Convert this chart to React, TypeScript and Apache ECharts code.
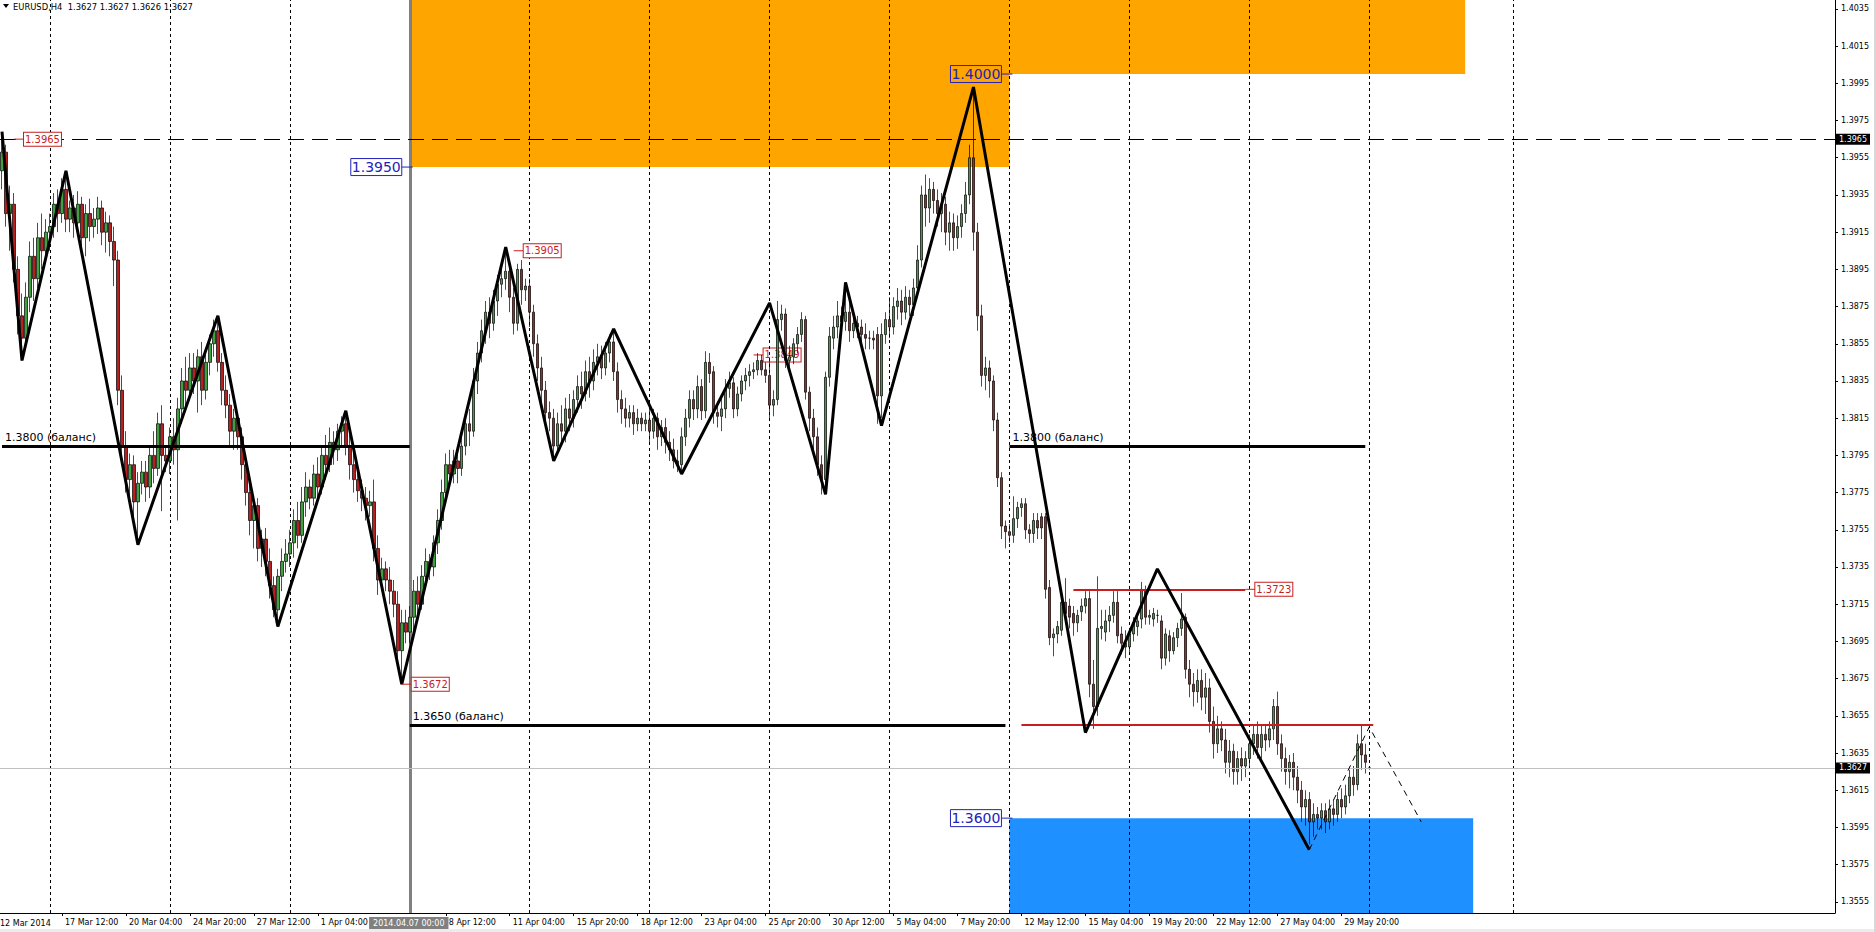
import { useEffect, useRef } from "react";
import * as echarts from "echarts";

const FONT = '"DejaVu Sans", sans-serif';

// ---- OHLC data, one tuple per H4 bar: [open, close, low, high] ----
const wk1 = [
  [1.3948, 1.3958, 1.3938, 1.3967], [1.3958, 1.3925, 1.3918, 1.3962], [1.3925, 1.393, 1.3905, 1.394],
  [1.393, 1.3895, 1.3888, 1.3936], [1.3895, 1.387, 1.386, 1.3902], [1.387, 1.3858, 1.3846, 1.3882],
  [1.3858, 1.388, 1.3852, 1.3888], [1.388, 1.3902, 1.3872, 1.391], [1.3902, 1.389, 1.3878, 1.3912],
  [1.389, 1.3912, 1.3885, 1.392], [1.3912, 1.3905, 1.3895, 1.3925], [1.3905, 1.3915, 1.3898, 1.3922],
];
const wk2 = [
  [1.3915, 1.3918, 1.3905, 1.3925], [1.3918, 1.393, 1.3912, 1.3936], [1.393, 1.3925, 1.3915, 1.3938],
  [1.3925, 1.3938, 1.392, 1.3944], [1.3938, 1.3922, 1.3915, 1.3948], [1.3922, 1.3928, 1.3915, 1.3932],
  [1.3928, 1.392, 1.3912, 1.3935], [1.392, 1.393, 1.3915, 1.3937], [1.393, 1.3912, 1.3905, 1.3934],
  [1.3912, 1.3925, 1.3902, 1.393], [1.3925, 1.3918, 1.391, 1.3933], [1.3918, 1.3922, 1.3912, 1.3928],
  [1.3922, 1.3928, 1.3914, 1.3934], [1.3928, 1.3915, 1.3908, 1.3932], [1.3915, 1.392, 1.3904, 1.3926],
  [1.392, 1.391, 1.3902, 1.3924], [1.391, 1.39, 1.3886, 1.3918], [1.39, 1.383, 1.3822, 1.3905],
  [1.383, 1.38, 1.379, 1.3838], [1.38, 1.3782, 1.3775, 1.3808], [1.3782, 1.379, 1.377, 1.3796],
  [1.379, 1.377, 1.376, 1.3795], [1.377, 1.378, 1.3749, 1.3786], [1.378, 1.3786, 1.3774, 1.3792],
  [1.3786, 1.3778, 1.377, 1.3792], [1.3778, 1.3795, 1.3772, 1.38], [1.3795, 1.3788, 1.378, 1.3808],
  [1.3788, 1.3812, 1.3784, 1.3818], [1.3812, 1.3795, 1.3765, 1.3822], [1.3795, 1.3792, 1.3786, 1.38],
];
const wk3 = [
  [1.3792, 1.3805, 1.3785, 1.381], [1.3805, 1.3798, 1.379, 1.3815], [1.3798, 1.382, 1.376, 1.3826],
  [1.382, 1.3835, 1.3812, 1.3842], [1.3835, 1.383, 1.3822, 1.3848], [1.383, 1.3842, 1.3826, 1.385],
  [1.3842, 1.3835, 1.3828, 1.385], [1.3835, 1.3848, 1.3818, 1.3852], [1.3848, 1.383, 1.3822, 1.3856],
  [1.383, 1.3845, 1.3825, 1.385], [1.3845, 1.3855, 1.3838, 1.386], [1.3855, 1.3862, 1.3848, 1.3868],
  [1.3862, 1.3845, 1.384, 1.387], [1.3845, 1.383, 1.3822, 1.385], [1.383, 1.3822, 1.3815, 1.3838],
  [1.3822, 1.3808, 1.38, 1.3828], [1.3808, 1.3815, 1.3798, 1.382], [1.3815, 1.3805, 1.3798, 1.3818],
  [1.3805, 1.379, 1.3782, 1.381], [1.379, 1.3775, 1.3768, 1.3795], [1.3775, 1.376, 1.3752, 1.378],
  [1.376, 1.3768, 1.3745, 1.3772], [1.3768, 1.3745, 1.3738, 1.3772], [1.3745, 1.375, 1.3735, 1.3755],
  [1.375, 1.3738, 1.373, 1.3756], [1.3738, 1.3725, 1.3718, 1.3745], [1.3725, 1.3712, 1.3708, 1.373],
  [1.3712, 1.373, 1.3703, 1.3734], [1.373, 1.3738, 1.3722, 1.3745], [1.3738, 1.3742, 1.3732, 1.375],
];
const wk4 = [
  [1.3742, 1.3748, 1.3735, 1.3755], [1.3748, 1.376, 1.374, 1.3766], [1.376, 1.3752, 1.3745, 1.377],
  [1.3752, 1.377, 1.3748, 1.3778], [1.377, 1.3778, 1.3762, 1.3786], [1.3778, 1.3772, 1.3766, 1.3782],
  [1.3772, 1.3785, 1.3768, 1.379], [1.3785, 1.3778, 1.377, 1.3794], [1.3778, 1.3795, 1.3774, 1.38],
  [1.3795, 1.379, 1.3782, 1.3806], [1.379, 1.3802, 1.3786, 1.381], [1.3802, 1.3798, 1.379, 1.3808],
  [1.3798, 1.3808, 1.3792, 1.3812], [1.3808, 1.3812, 1.38, 1.3816], [1.3812, 1.38, 1.3795, 1.3819],
  [1.38, 1.379, 1.3782, 1.3806], [1.379, 1.3782, 1.3775, 1.3798], [1.3782, 1.3776, 1.377, 1.3788],
  [1.3776, 1.3772, 1.3765, 1.3782], [1.3772, 1.3768, 1.376, 1.3778], [1.3768, 1.377, 1.3762, 1.3776],
  [1.377, 1.3745, 1.3738, 1.3782], [1.3745, 1.3728, 1.372, 1.3752], [1.3728, 1.3734, 1.3722, 1.374],
  [1.3734, 1.3728, 1.3722, 1.3738], [1.3728, 1.3722, 1.3715, 1.3735], [1.3722, 1.3715, 1.3708, 1.3728],
  [1.3715, 1.369, 1.3685, 1.3722], [1.369, 1.3705, 1.3672, 1.3712], [1.3705, 1.37, 1.3694, 1.3712],
];
const wk5 = [
  [1.37, 1.3708, 1.3694, 1.3714], [1.3708, 1.3722, 1.37, 1.3728], [1.3722, 1.3715, 1.3708, 1.373],
  [1.3715, 1.373, 1.3712, 1.3736], [1.373, 1.3738, 1.3725, 1.3745], [1.3738, 1.3735, 1.3728, 1.3742],
  [1.3735, 1.3748, 1.373, 1.3752], [1.3748, 1.376, 1.3742, 1.3766], [1.376, 1.3775, 1.3755, 1.3782],
  [1.3775, 1.379, 1.377, 1.3796], [1.379, 1.3785, 1.3778, 1.3798], [1.3785, 1.3792, 1.378, 1.3798],
  [1.3792, 1.3788, 1.378, 1.3798], [1.3788, 1.38, 1.3784, 1.3806], [1.38, 1.3812, 1.3795, 1.3818],
  [1.3812, 1.3808, 1.38, 1.382], [1.3808, 1.3835, 1.3805, 1.3842], [1.3835, 1.385, 1.3828, 1.3856],
  [1.385, 1.3862, 1.3845, 1.3868], [1.3862, 1.3872, 1.3855, 1.3878], [1.3872, 1.3866, 1.3858, 1.388],
  [1.3866, 1.3878, 1.3862, 1.3884], [1.3878, 1.3887, 1.387, 1.3892], [1.3887, 1.389, 1.388, 1.3898],
  [1.389, 1.3894, 1.3884, 1.3906], [1.3894, 1.388, 1.3872, 1.3898], [1.388, 1.3866, 1.386, 1.3885],
  [1.3866, 1.3895, 1.3862, 1.3898], [1.3895, 1.3884, 1.3876, 1.39], [1.3884, 1.3886, 1.3878, 1.389],
];
const wk6 = [
  [1.3886, 1.3872, 1.3864, 1.389], [1.3872, 1.3855, 1.3848, 1.3876], [1.3855, 1.3842, 1.3835, 1.386],
  [1.3842, 1.383, 1.3822, 1.3848], [1.383, 1.3818, 1.381, 1.3835], [1.3818, 1.3815, 1.3808, 1.3824],
  [1.3815, 1.38, 1.3792, 1.382], [1.38, 1.3812, 1.3796, 1.3818], [1.3812, 1.3808, 1.38, 1.3822],
  [1.3808, 1.382, 1.3802, 1.3826], [1.382, 1.3815, 1.3808, 1.3828], [1.3815, 1.3825, 1.381, 1.383],
  [1.3825, 1.3832, 1.3818, 1.3838], [1.3832, 1.3828, 1.382, 1.384], [1.3828, 1.384, 1.3824, 1.3846],
  [1.384, 1.3835, 1.3826, 1.3848], [1.3835, 1.3845, 1.383, 1.3852], [1.3845, 1.3848, 1.3838, 1.3855],
  [1.3848, 1.3842, 1.3836, 1.3854], [1.3842, 1.385, 1.3838, 1.3856], [1.385, 1.3856, 1.3845, 1.386],
  [1.3856, 1.384, 1.3835, 1.3863], [1.384, 1.3825, 1.3818, 1.3845], [1.3825, 1.382, 1.3812, 1.383],
  [1.382, 1.3815, 1.381, 1.3826], [1.3815, 1.3818, 1.381, 1.3822], [1.3818, 1.3812, 1.3806, 1.3822],
  [1.3812, 1.3815, 1.3808, 1.382], [1.3815, 1.3812, 1.3808, 1.3818], [1.3812, 1.3814, 1.3808, 1.3818],
];
const wk7 = [
  [1.3814, 1.3808, 1.3802, 1.382], [1.3808, 1.3815, 1.3804, 1.382], [1.3815, 1.3805, 1.3798, 1.3818],
  [1.3805, 1.381, 1.38, 1.3814], [1.381, 1.3802, 1.3796, 1.3815], [1.3802, 1.3798, 1.3792, 1.3808],
  [1.3798, 1.3792, 1.3788, 1.3804], [1.3792, 1.379, 1.3786, 1.3798], [1.379, 1.3805, 1.3785, 1.381],
  [1.3805, 1.3815, 1.38, 1.382], [1.3815, 1.3825, 1.381, 1.383], [1.3825, 1.382, 1.3814, 1.383],
  [1.382, 1.3832, 1.3815, 1.3838], [1.3832, 1.3819, 1.3814, 1.3836], [1.3819, 1.3845, 1.3815, 1.3851],
  [1.3845, 1.3839, 1.3834, 1.385], [1.384, 1.3818, 1.3812, 1.3843], [1.3818, 1.3816, 1.381, 1.3824],
  [1.3816, 1.382, 1.3808, 1.3826], [1.382, 1.3831, 1.3815, 1.3836], [1.3831, 1.3834, 1.3826, 1.384],
  [1.3834, 1.382, 1.3815, 1.3837], [1.382, 1.3828, 1.3816, 1.3832], [1.3828, 1.3835, 1.3824, 1.3838],
  [1.3835, 1.3838, 1.383, 1.3842], [1.3838, 1.384, 1.3832, 1.3844], [1.384, 1.3841, 1.3836, 1.3845],
  [1.3841, 1.3846, 1.3838, 1.385], [1.3846, 1.3841, 1.3838, 1.3849], [1.3841, 1.3838, 1.3834, 1.3845],
];
const wk8 = [
  [1.3838, 1.3822, 1.3814, 1.3846], [1.3822, 1.3825, 1.3816, 1.383], [1.3825, 1.3868, 1.3822, 1.3878],
  [1.3868, 1.3871, 1.3862, 1.3876], [1.3871, 1.3846, 1.3842, 1.3874], [1.3846, 1.3848, 1.384, 1.3854],
  [1.3848, 1.3855, 1.3844, 1.3858], [1.3855, 1.386, 1.385, 1.3864], [1.386, 1.3868, 1.3856, 1.3872],
  [1.3868, 1.3829, 1.3825, 1.387], [1.3829, 1.3815, 1.3808, 1.3832], [1.3815, 1.3805, 1.3798, 1.382],
  [1.3805, 1.379, 1.3784, 1.381], [1.379, 1.3782, 1.3774, 1.3795], [1.3782, 1.3837, 1.3776, 1.384],
  [1.3837, 1.3859, 1.3832, 1.3864], [1.3858, 1.3864, 1.3852, 1.387], [1.3864, 1.387, 1.3858, 1.3878],
  [1.387, 1.3867, 1.386, 1.3875], [1.3867, 1.3872, 1.3862, 1.3886], [1.3872, 1.3862, 1.3856, 1.388],
  [1.3862, 1.3866, 1.3858, 1.3872], [1.3866, 1.3864, 1.3858, 1.387], [1.3864, 1.386, 1.3852, 1.3868],
  [1.386, 1.3858, 1.3852, 1.3866], [1.3858, 1.3858, 1.3852, 1.3862], [1.3858, 1.3857, 1.3852, 1.3862],
  [1.386, 1.3827, 1.3812, 1.3864], [1.3827, 1.386, 1.3815, 1.3866], [1.386, 1.3868, 1.3855, 1.3872],
];
const wk9 = [
  [1.3868, 1.3864, 1.3858, 1.388], [1.3864, 1.3875, 1.386, 1.388], [1.3875, 1.3878, 1.3868, 1.3885],
  [1.3878, 1.3872, 1.3865, 1.3884], [1.3872, 1.388, 1.3868, 1.3886], [1.388, 1.3876, 1.387, 1.3884],
  [1.3876, 1.3885, 1.387, 1.389], [1.3885, 1.39, 1.388, 1.3908], [1.39, 1.3935, 1.3896, 1.394],
  [1.3935, 1.3928, 1.3918, 1.3946], [1.3928, 1.3938, 1.392, 1.3944], [1.3938, 1.3932, 1.3925, 1.3942],
  [1.3932, 1.3925, 1.3918, 1.3938], [1.3925, 1.393, 1.3915, 1.3936], [1.393, 1.3915, 1.3908, 1.3934],
  [1.3915, 1.392, 1.3905, 1.3926], [1.392, 1.3912, 1.3905, 1.3925], [1.3912, 1.3918, 1.3906, 1.3924],
  [1.3918, 1.3925, 1.3912, 1.393], [1.3925, 1.3935, 1.392, 1.3942], [1.3935, 1.3955, 1.393, 1.3962],
  [1.3955, 1.3915, 1.3905, 1.3993], [1.3915, 1.387, 1.3862, 1.392], [1.387, 1.3838, 1.3832, 1.3876],
  [1.3838, 1.3842, 1.383, 1.3848], [1.3842, 1.3835, 1.3826, 1.3846], [1.3835, 1.3814, 1.3808, 1.3838],
  [1.3814, 1.3783, 1.3778, 1.3818], [1.3783, 1.3757, 1.375, 1.3786], [1.3757, 1.3754, 1.3745, 1.376],
];
const wk10 = [
  [1.3754, 1.3752, 1.3748, 1.3758], [1.3752, 1.3761, 1.3748, 1.3773], [1.3761, 1.3767, 1.3756, 1.377],
  [1.3767, 1.3769, 1.3762, 1.3772], [1.3769, 1.3755, 1.375, 1.3772], [1.3755, 1.3753, 1.3748, 1.3758],
  [1.3753, 1.376, 1.3748, 1.3764], [1.376, 1.3756, 1.375, 1.3764], [1.3762, 1.3756, 1.375, 1.3764],
  [1.3762, 1.3723, 1.3718, 1.3764], [1.3724, 1.3697, 1.3693, 1.3728], [1.3697, 1.3699, 1.3687, 1.3702],
  [1.3699, 1.3703, 1.3694, 1.3706], [1.3701, 1.3716, 1.3698, 1.3718], [1.3716, 1.371, 1.3706, 1.3729],
  [1.3714, 1.3708, 1.3702, 1.3718], [1.371, 1.3705, 1.3698, 1.3714], [1.3705, 1.3709, 1.37, 1.3712],
  [1.3711, 1.3714, 1.3706, 1.3718], [1.3714, 1.3718, 1.371, 1.3722], [1.3718, 1.3672, 1.3665, 1.3722],
  [1.3672, 1.366, 1.3648, 1.3685], [1.366, 1.3702, 1.3655, 1.373], [1.3702, 1.3703, 1.3696, 1.3712],
  [1.37, 1.3706, 1.3695, 1.3712], [1.3706, 1.3709, 1.37, 1.3714], [1.3709, 1.3716, 1.3705, 1.3722],
  [1.3716, 1.3698, 1.3694, 1.3722], [1.3699, 1.3694, 1.3688, 1.3703], [1.3694, 1.3692, 1.3686, 1.3701],
];
const wk11 = [
  [1.3692, 1.3699, 1.3688, 1.3702], [1.3699, 1.3705, 1.3695, 1.3708], [1.3703, 1.3706, 1.3698, 1.371],
  [1.3707, 1.3723, 1.3702, 1.3727], [1.3722, 1.3708, 1.3704, 1.3725], [1.3708, 1.3709, 1.3704, 1.3712],
  [1.3707, 1.371, 1.3703, 1.3713], [1.3709, 1.3709, 1.3705, 1.3712], [1.3706, 1.3686, 1.368, 1.3709],
  [1.3686, 1.3699, 1.3682, 1.3702], [1.3698, 1.369, 1.3684, 1.3701], [1.369, 1.3697, 1.3688, 1.37],
  [1.3697, 1.3702, 1.3692, 1.3705], [1.3702, 1.3707, 1.3698, 1.3721], [1.3708, 1.368, 1.3675, 1.371],
  [1.368, 1.3672, 1.3665, 1.3685], [1.3672, 1.3668, 1.366, 1.3678], [1.3668, 1.3674, 1.3662, 1.368],
  [1.3674, 1.3665, 1.3658, 1.368], [1.3665, 1.367, 1.3656, 1.3678], [1.367, 1.3652, 1.3646, 1.3675],
  [1.3652, 1.364, 1.3632, 1.366], [1.364, 1.3648, 1.3635, 1.3655], [1.3648, 1.3642, 1.3636, 1.3652],
  [1.3642, 1.363, 1.3624, 1.3648], [1.363, 1.3636, 1.3622, 1.3642], [1.3636, 1.3625, 1.3618, 1.364],
  [1.3625, 1.3632, 1.3618, 1.3636], [1.3632, 1.3628, 1.362, 1.3638], [1.3628, 1.3632, 1.3622, 1.3636],
];
const wk12 = [
  [1.3632, 1.364, 1.3628, 1.3645], [1.364, 1.3645, 1.3634, 1.365], [1.3645, 1.3638, 1.3632, 1.3652],
  [1.3638, 1.3645, 1.3632, 1.365], [1.3645, 1.3642, 1.3636, 1.365], [1.3642, 1.3648, 1.3638, 1.3652],
  [1.3648, 1.366, 1.3642, 1.3664], [1.366, 1.364, 1.3634, 1.3668], [1.364, 1.3632, 1.3625, 1.3645],
  [1.3632, 1.3625, 1.3618, 1.3638], [1.3625, 1.363, 1.3616, 1.3634], [1.363, 1.3622, 1.3615, 1.3635],
  [1.3622, 1.3615, 1.3608, 1.3628], [1.3615, 1.3606, 1.3598, 1.362], [1.3606, 1.361, 1.3596, 1.3615],
  [1.361, 1.3598, 1.3586, 1.3614], [1.3598, 1.3602, 1.359, 1.3608], [1.3602, 1.36, 1.3594, 1.3606],
  [1.36, 1.3604, 1.3594, 1.3608], [1.3604, 1.3598, 1.3592, 1.3608], [1.3598, 1.3605, 1.3594, 1.361],
  [1.3605, 1.3602, 1.3596, 1.361], [1.3602, 1.361, 1.3598, 1.3614], [1.361, 1.3606, 1.36, 1.3616],
  [1.3606, 1.3612, 1.3602, 1.3618], [1.3612, 1.3622, 1.3608, 1.3626], [1.3622, 1.3618, 1.3612, 1.3628],
  [1.3618, 1.364, 1.3615, 1.3645], [1.364, 1.3634, 1.3626, 1.365], [1.3634, 1.363, 1.3624, 1.364],
];
const wk13 = [[1.3627, 1.3627, 1.3626, 1.3627]];

const candles = [...wk1, ...wk2, ...wk3, ...wk4, ...wk5, ...wk6, ...wk7, ...wk8, ...wk9, ...wk10, ...wk11, ...wk12, ...wk13];

// ---- axes ----
const SLOT_COUNT = 459; // bars + empty future area
const Y_MIN = 1.3549;
const Y_MAX = 1.40398;
const yTicks = [
  1.3555, 1.3575, 1.3595, 1.3615, 1.3635, 1.3655, 1.3675, 1.3695, 1.3715, 1.3735, 1.3755, 1.3775, 1.3795,
  1.3815, 1.3835, 1.3855, 1.3875, 1.3895, 1.3915, 1.3935, 1.3955, 1.3975, 1.3995, 1.4015, 1.4035,
];
const xTickIdx = [15, 31, 47, 63, 79, 111, 127, 143, 159, 175, 191, 207, 223, 239, 255, 271, 287, 303, 319, 335];
const xTickText = [
  "17 Mar 12:00", "20 Mar 04:00", "24 Mar 20:00", "27 Mar 12:00", "1 Apr 04:00", "8 Apr 12:00",
  "11 Apr 04:00", "15 Apr 20:00", "18 Apr 12:00", "23 Apr 04:00", "25 Apr 20:00", "30 Apr 12:00", "5 May 04:00",
  "7 May 20:00", "12 May 12:00", "15 May 04:00", "19 May 20:00", "22 May 12:00", "27 May 04:00", "29 May 20:00",
];
const firstLabel = "12 Mar 2014";
const selectedLabel = "2014.04.07 00:00";
const selectedBar = 102;
const weekStarts = [12, 42, 72, 132, 162, 192, 222, 252, 282, 312, 342, 378];

// ---- drawn objects ----
const zigzag = [
  [0, 1.3969], [5, 1.3846], [16, 1.3948], [34, 1.3747], [54, 1.387], [69, 1.3703], [86, 1.3819],
  [100, 1.3672], [126, 1.3907], [138, 1.3792], [153, 1.3863], [170, 1.3785], [192, 1.3877], [206, 1.3774],
  [211, 1.3888], [220, 1.3811], [243, 1.3993], [271, 1.3646], [289, 1.3734], [327, 1.3583],
];
const zigzagTail = [[327, 1.3583], [342, 1.3649], [355, 1.3598]];
const balanceFrom = [0, 252, 102];
const balanceTo = [102, 341, 251];
const balancePrice = [1.38, 1.38, 1.365];
const balanceText = ["1.3800 (баланс)", "1.3800 (баланс)", "1.3650 (баланс)"];
const redFrom = [268, 255];
const redTo = [311, 343];
const redPrice = [1.3723, 1.365];
const zoneFrom = [102, 252, 252];
const zoneTo = [252, 366, 368];
const zoneLow = [1.395, 1.4, Y_MIN];
const zoneHigh = [Y_MAX, Y_MAX, 1.36];
const zoneColor = ["#ffa500", "#ffa500", "#1e90ff"];
const redLabelBar = [3, 128, 188, 100, 311];
const redLabelPrice = [1.3965, 1.3905, 1.3849, 1.3672, 1.3723];
const blueLabelBar = [102, 252, 252];
const blueLabelPrice = [1.395, 1.4, 1.36];
const lastPrice = 1.3627;
const dashedLevel = 1.3965;
const header = "EURUSD,H4  1.3627 1.3627 1.3626 1.3627";

const categories = Array.from({ length: SLOT_COUNT }, (_, i) => String(i));
const tickSet = new Set(xTickIdx);
const tickTextOf = new Map(xTickIdx.map((i, k) => [i, xTickText[k]]));

export default function App() {
  const ref = useRef<HTMLDivElement>(null);

  useEffect(() => {
    document.body.style.margin = "0";
    const chart = echarts.init(ref.current!, null, { renderer: "svg" });

    const option: any = {
      animation: false,
      textStyle: { fontFamily: FONT },
      grid: { left: 0, right: 41, top: 0, bottom: 19 },
      xAxis: {
        type: "category",
        data: categories,
        boundaryGap: true,
        axisLine: { show: true, lineStyle: { color: "#000", width: 1 } },
        axisTick: {
          show: true,
          alignWithLabel: true,
          length: 3,
          interval: (i: number) => tickSet.has(i),
          lineStyle: { color: "#000" },
        },
        axisLabel: {
          show: true,
          interval: (i: number) => tickSet.has(i),
          formatter: (_v: string, i: number) => tickTextOf.get(i) || "",
          align: "left",
          padding: [0, 0, 0, 3],
          margin: 5,
          fontSize: 8,
          color: "#000",
          fontFamily: FONT,
        },
        splitLine: { show: false },
      },
      yAxis: {
        type: "value",
        position: "right",
        min: Y_MIN,
        max: Y_MAX,
        scale: true,
        splitLine: { show: false },
        axisLine: { show: true, lineStyle: { color: "#000", width: 1 } },
        axisTick: { show: true, length: 3, customValues: yTicks, lineStyle: { color: "#000" } },
        axisLabel: {
          show: true,
          customValues: yTicks,
          formatter: (v: number) => v.toFixed(4),
          fontSize: 8,
          color: "#000",
          margin: 6,
          fontFamily: FONT,
        },
      },
      series: [
        {
          type: "line",
          name: "zones",
          data: [],
          silent: true,
          clip: false,
          markArea: {
            silent: true,
            z: 1,
            data: zoneFrom.map((f, k) => [
              { coord: [f, zoneHigh[k]], itemStyle: { color: zoneColor[k], opacity: 1 } },
              { coord: [zoneTo[k], zoneLow[k]] },
            ]),
          },
        },
        {
          type: "line",
          name: "separators",
          data: [],
          silent: true,
          clip: false,
          markLine: {
            silent: true,
            z: 2,
            symbol: ["none", "none"],
            label: { show: false },
            lineStyle: { color: "#000", type: [3, 3], width: 1 },
            data: [
              ...weekStarts.map((i) => ({ xAxis: i })),
              { xAxis: selectedBar, lineStyle: { color: "#808080", type: "solid", width: 3 } },
            ],
          },
        },
        {
          type: "candlestick",
          name: "EURUSD",
          data: candles,
          barWidth: 3,
          z: 3,
          silent: true,
          itemStyle: {
            color: "#3fa03f",
            color0: "#b82020",
            borderColor: "#000",
            borderColor0: "#000",
            borderWidth: 0.7,
          },
        },
        {
          type: "line",
          name: "levels",
          data: [],
          silent: true,
          clip: false,
          markLine: {
            silent: true,
            z: 4,
            precision: 4,
            symbol: ["none", "none"],
            data: [
              {
                yAxis: lastPrice,
                lineStyle: { color: "#c0c0c0", type: "solid", width: 1 },
                label: {
                  show: true, position: "end", formatter: lastPrice.toFixed(4), backgroundColor: "#000",
                  color: "#fff", fontSize: 8, fontFamily: FONT, padding: [2, 3, 1, 3], distance: 1,
                },
              },
              {
                yAxis: dashedLevel,
                lineStyle: { color: "#000", type: [16, 8], width: 1 },
                label: {
                  show: true, position: "end", formatter: dashedLevel.toFixed(4), backgroundColor: "#000",
                  color: "#fff", fontSize: 8, fontFamily: FONT, padding: [2, 3, 1, 3], distance: 1,
                },
              },
              ...balanceFrom.map((f, k) => [
                {
                  coord: [f, balancePrice[k]],
                  lineStyle: { color: "#000", type: "solid", width: 3 },
                  label: {
                    show: true, position: "insideStartTop", formatter: balanceText[k], color: "#000",
                    fontSize: 11, fontFamily: FONT, distance: 3,
                  },
                },
                { coord: [balanceTo[k], balancePrice[k]] },
              ]),
              ...redFrom.map((f, k) => [
                {
                  coord: [f, redPrice[k]],
                  lineStyle: { color: "#c81e1e", type: "solid", width: 2 },
                  label: { show: false },
                },
                { coord: [redTo[k], redPrice[k]] },
              ]),
            ],
          },
        },
        {
          type: "line",
          name: "zigzag",
          data: zigzag,
          z: 6,
          silent: true,
          showSymbol: false,
          symbol: "none",
          lineStyle: { color: "#000", width: 3 },
        },
        {
          type: "line",
          name: "zigzag-tail",
          data: zigzagTail,
          z: 6,
          silent: true,
          showSymbol: false,
          symbol: "none",
          lineStyle: { color: "#000", width: 1, type: [6, 5] },
        },
      ],
    };
    chart.setOption(option);

    const px = (bar: number, price: number) =>
      chart.convertToPixel({ gridIndex: 0 }, [bar, price]) as number[];

    const elements: any[] = [];
    // header
    elements.push({
      type: "polygon",
      shape: { points: [[3, 4], [9, 4], [6, 8]] },
      style: { fill: "#000" },
      z: 100,
    });
    elements.push({
      type: "text",
      x: 13,
      y: 7,
      style: { text: header, fill: "#000", font: `8.4px ${FONT}`, verticalAlign: "middle", align: "left" },
      z: 100,
    });
    // red price labels
    redLabelBar.forEach((b, k) => {
      const [ax, ay] = px(b, redLabelPrice[k]);
      const behind = k === 2;
      elements.push({
        type: "line",
        shape: { x1: ax, y1: ay, x2: ax + 10, y2: ay },
        style: { stroke: "#c81e1e", lineWidth: 1 },
        z: behind ? 1 : 100,
      });
      elements.push({
        type: "text",
        x: ax + 10,
        y: ay,
        style: {
          text: redLabelPrice[k].toFixed(4),
          fill: "#c81e1e",
          font: `10px ${FONT}`,
          align: "left",
          verticalAlign: "middle",
          backgroundColor: "#fff",
          borderColor: "#c81e1e",
          borderWidth: 1,
          padding: [1, 1, 0, 1],
          lineHeight: 12,
        },
        z: behind ? 1 : 100,
      });
    });
    // blue price labels
    blueLabelBar.forEach((b, k) => {
      const [ax, ay] = px(b, blueLabelPrice[k]);
      elements.push({
        type: "line",
        shape: { x1: ax - 8, y1: ay, x2: ax + 3, y2: ay },
        style: { stroke: "#2222bb", lineWidth: 1 },
        z: 100,
      });
      elements.push({
        type: "text",
        x: ax - 8,
        y: ay,
        style: {
          text: blueLabelPrice[k].toFixed(4),
          fill: "#2222bb",
          font: `14px ${FONT}`,
          align: "right",
          verticalAlign: "middle",
          borderColor: "#2222bb",
          borderWidth: 1,
          padding: [1, 1, 0, 1],
          lineHeight: 16,
        },
        z: 100,
      });
    });
    // x-axis extras
    const [sx] = px(selectedBar, Y_MIN);
    elements.push({
      type: "text",
      x: sx - 1,
      y: 923,
      style: {
        text: selectedLabel,
        fill: "#fff",
        font: `8px ${FONT}`,
        align: "center",
        verticalAlign: "middle",
        backgroundColor: "#808080",
        padding: [2, 4, 2, 4],
      },
      z: 100,
    });
    elements.push({
      type: "text",
      x: 0,
      y: 923,
      style: { text: firstLabel, fill: "#000", font: `8px ${FONT}`, align: "left", verticalAlign: "middle" },
      z: 100,
    });
    // window border strips
    elements.push({ type: "rect", shape: { x: 0, y: 929, width: 1876, height: 3 }, style: { fill: "#ececec" }, z: 100 });
    elements.push({ type: "rect", shape: { x: 1874, y: 0, width: 2, height: 932 }, style: { fill: "#d8d8d8" }, z: 100 });

    chart.setOption({ graphic: { elements } });

    return () => chart.dispose();
  }, []);

  return <div ref={ref} style={{ width: 1876, height: 932 }} />;
}
